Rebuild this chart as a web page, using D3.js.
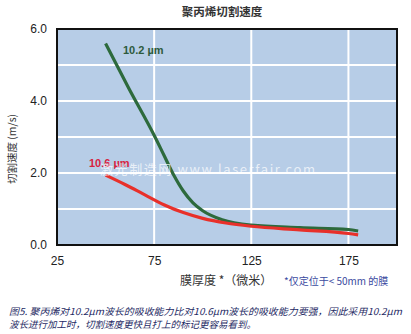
<!DOCTYPE html>
<html>
<head>
<meta charset="utf-8">
<script src="https://cdn.jsdelivr.net/npm/d3@7"></script>
<style>
  body { margin: 0; background: #fff; }
  svg { display: block; }
  text { font-family: "Liberation Sans", Arial, "Noto Sans CJK SC", sans-serif; }
  .cjk { font-family: "Noto Sans CJK SC", sans-serif; }
</style>
</head>
<body>
<svg id="chart" width="411" height="334"></svg>
<script>
// film thickness (µm) vs cutting speed (m/s)
const xTicks = [25, 75, 125, 175];
const yTicks = [0, 2, 4, 6];
const yGrid = [1, 2, 3, 4, 5];
const xGrid = [75, 125, 175];

const thick102 = [50, 62, 75, 80, 85, 90, 95, 100, 110, 125, 150, 175, 180];
const speed102 = [5.6, 4.35, 3.05, 2.5, 1.95, 1.5, 1.17, 0.95, 0.7, 0.55, 0.48, 0.43, 0.39];

const thick106 = [50, 60, 70, 80, 90, 100, 112, 125, 150, 175, 180];
const speed106 = [1.94, 1.68, 1.4, 1.12, 0.9, 0.74, 0.61, 0.52, 0.42, 0.32, 0.28];

const svg = d3.select("#chart");
const plot = { left: 57, right: 397, top: 29, bottom: 245 };

const x = d3.scaleLinear().domain([25, 200]).range([plot.left, plot.right]);
const y = d3.scaleLinear().domain([0, 6]).range([plot.bottom, plot.top]);

// title
svg.append("text")
  .attr("class", "cjk")
  .attr("x", 222).attr("y", 16)
  .attr("text-anchor", "middle")
  .attr("font-size", 11.5)
  .attr("font-weight", "bold")
  .attr("fill", "#333")
  .text("聚丙烯切割速度");

// plot background
svg.append("rect")
  .attr("x", plot.left).attr("y", plot.top)
  .attr("width", plot.right - plot.left)
  .attr("height", plot.bottom - plot.top)
  .attr("fill", "#b7cde7");

// grid lines
svg.selectAll(".hgrid")
  .data(yGrid)
  .enter()
  .append("line")
  .attr("x1", plot.left).attr("x2", plot.right)
  .attr("y1", d => y(d)).attr("y2", d => y(d))
  .attr("stroke", "#fff")
  .attr("stroke-width", 2);

svg.selectAll(".vgrid")
  .data(xGrid)
  .enter()
  .append("line")
  .attr("y1", plot.top).attr("y2", plot.bottom)
  .attr("x1", d => x(d)).attr("x2", d => x(d))
  .attr("stroke", "#fff")
  .attr("stroke-width", 2);

// axes tick labels
const yAxis = svg.append("g")
  .attr("transform", `translate(${plot.left},0)`)
  .call(d3.axisLeft(y).tickValues(yTicks).tickFormat(d3.format(".1f")).tickSize(0).tickPadding(10));
yAxis.select(".domain").remove();
yAxis.selectAll("text").attr("font-size", 12).attr("fill", "#222")
  .style("font-family", "Liberation Sans, Arial, sans-serif");

const xAxis = svg.append("g")
  .attr("transform", `translate(0,${plot.bottom})`)
  .call(d3.axisBottom(x).tickValues(xTicks).tickFormat(d3.format("d")).tickSize(0).tickPadding(11));
xAxis.select(".domain").remove();
xAxis.selectAll("text").attr("font-size", 12).attr("fill", "#222")
  .style("font-family", "Liberation Sans, Arial, sans-serif");

// lines
const line = d3.line()
  .x(d => x(d[0]))
  .y(d => y(d[1]))
  .curve(d3.curveMonotoneX);

svg.append("path")
  .datum(d3.zip(thick102, speed102))
  .attr("d", line)
  .attr("fill", "none")
  .attr("stroke", "#2d6a3c")
  .attr("stroke-width", 3.2);

svg.append("path")
  .datum(d3.zip(thick106, speed106))
  .attr("d", line)
  .attr("fill", "none")
  .attr("stroke", "#e8302a")
  .attr("stroke-width", 3.2);

// series labels
svg.append("text")
  .attr("x", 123).attr("y", 54)
  .attr("font-size", 11).attr("font-weight", "bold")
  .attr("fill", "#2d5a3c")
  .text("10.2 µm");

svg.append("text")
  .attr("x", 89).attr("y", 167)
  .attr("font-size", 11).attr("font-weight", "bold")
  .attr("fill", "#d8223f")
  .text("10.6 µm");

// watermark
svg.append("text")
  .attr("class", "cjk")
  .attr("x", 100).attr("y", 174)
  .attr("font-size", 13)
  .attr("fill", "#fff")
  .attr("fill-opacity", 0.7)
  .attr("textLength", 215)
  .attr("lengthAdjust", "spacing")
  .text("激光制造网 www.laserfair.com");

// plot border
svg.append("rect")
  .attr("x", plot.left).attr("y", plot.top)
  .attr("width", plot.right - plot.left)
  .attr("height", plot.bottom - plot.top)
  .attr("fill", "none")
  .attr("stroke", "#111")
  .attr("stroke-width", 2);

// y title
svg.append("text")
  .attr("class", "cjk")
  .attr("transform", `translate(16,${(plot.top + plot.bottom) / 2 + 12}) rotate(-90)`)
  .attr("text-anchor", "middle")
  .attr("font-size", 10.5)
  .attr("fill", "#333")
  .text("切割速度 (m/s)");

// x title + note
svg.append("text")
  .attr("class", "cjk")
  .attr("x", 180).attr("y", 285)
  .attr("font-size", 12)
  .attr("fill", "#333")
  .text("膜厚度 *（微米）");

svg.append("text")
  .attr("class", "cjk")
  .attr("x", 284).attr("y", 285)
  .attr("font-size", 10)
  .attr("fill", "#3a4aa0")
  .text("*仅定位于< 50mm 的膜");

// caption
const caption = [
  "图5. 聚丙烯对10.2μm波长的吸收能力比对10.6μm波长的吸收能力要强，因此采用10.2μm",
  "波长进行加工时，切割速度更快且打上的标记更容易看到。"
];
svg.selectAll(".caption")
  .data(caption)
  .enter()
  .append("text")
  .attr("class", "cjk")
  .attr("x", 9)
  .attr("y", (d, i) => 315 + i * 13)
  .attr("font-size", 9.5)
  .attr("font-style", "italic")
  .attr("fill", "#1e2a64")
  .attr("textLength", (d, i) => i === 0 ? 393 : null)
  .attr("lengthAdjust", "spacingAndGlyphs")
  .text(d => d);
</script>
</body>
</html>
